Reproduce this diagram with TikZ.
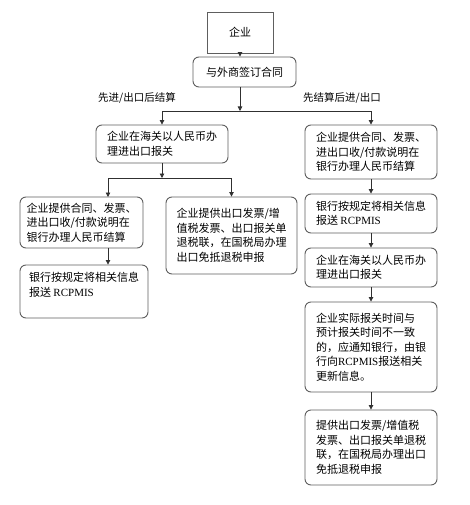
\documentclass[tikz,border=0pt]{standalone}
\usepackage{fontspec}
\usepackage{tikz}
\usetikzlibrary{arrows.meta}
\newfontfamily\cjk{Noto Sans CJK SC}
\newfontfamily\lat{Liberation Serif}
\definecolor{linex}{HTML}{5E5E5E}
\definecolor{arrx}{HTML}{303030}
\tikzset{
  ar/.style={-{Triangle[length=4.5pt,width=4.5pt]},line width=0.8pt,arrx},
  box/.style={draw=linex,line width=0.9pt,rounded corners=6pt,align=left,inner sep=0pt,font=\cjk\fontsize{11}{14.5}\selectfont},
  lbl/.style={font=\cjk\fontsize{10.5}{12}\selectfont,inner sep=0pt}
}
\begin{document}
\begin{tikzpicture}[x=1pt,y=-1pt]
\useasboundingbox[fill=white] (0,0) rectangle (470,505);
% top part
\node[box,sharp corners,align=center,minimum width=66pt,minimum height=41pt] (qy) at (240,32.5) {企业};
\node[box,align=center,minimum width=103pt,minimum height=30pt] (ht) at (244.5,72) {与外商签订合同};
\coordinate (f1) at (240,111);
\node[lbl] (lx) at (137,98) {先进/出口后结算};
\node[lbl] (rx) at (342,98) {先结算后进/出口};
% left branch
\node[box,minimum width=132pt,minimum height=38pt] (L1) at (162,144) {企业在海关以人民币办\\理进出口报关};
\coordinate (f2) at (162,178);
\node[box,minimum width=123pt,minimum height=51pt] (L2) at (81.5,222.5) {企业提供合同、发票、\\进出口收/付款说明在\\银行办理人民币结算};
\coordinate (a2) at (108,197);
\node[box,minimum width=128pt,minimum height=53pt] (L3) at (84,291.5) {银行按规定将相关信息\\报送 {\lat RCPMIS}\\\mbox{}};
\node[box,minimum width=131pt,minimum height=77pt] (L4) at (231.5,235.5) {企业提供出口发票/增\\值税发票、出口报关单\\退税联，在国税局办理\\出口免抵退税申报};
% right branch
\node[box,minimum width=132pt,minimum height=54pt] (R1) at (371,152) {企业提供合同、发票、\\进出口收/付款说明在\\银行办理人民币结算};
\node[box,minimum width=132pt,minimum height=39pt] (R2) at (371,213.5) {银行按规定将相关信息\\报送 {\lat RCPMIS}};
\node[box,minimum width=132pt,minimum height=39pt] (R3) at (371,267.5) {企业在海关以人民币办\\理进出口报关};
\node[box,minimum width=132pt,minimum height=90pt] (R4) at (371,347) {企业实际报关时间与\\预计报关时间不一致\\的，应通知银行，由银\\行向{\lat RCPMIS}报送相关\\更新信息。};
\node[box,minimum width=132pt,minimum height=75pt] (R5) at (371,447.5) {提供出口发票/增值税\\发票、出口报关单退税\\联，在国税局办理出口\\免抵退税申报};
% arrows
\draw[ar] (qy.south) -- (qy.south |- ht.north);
\draw[ar] (qy.south |- ht.south) -- (f1);
\draw[ar] (f1) -| (L1.north);
\draw[ar] (f1) -| (R1.north);
\draw[ar] (L1.south) -- (f2);
\draw[ar] (f2) -| (a2);
\draw[ar] (f2) -| (L4.north);
\draw[ar] (a2 |- L2.south) -- (a2 |- L3.north);
\draw[ar] (R1) -- (R2);
\draw[ar] (R2) -- (R3);
\draw[ar] (R3) -- (R4);
\draw[ar] (R4) -- (R5);
\end{tikzpicture}
\end{document}
